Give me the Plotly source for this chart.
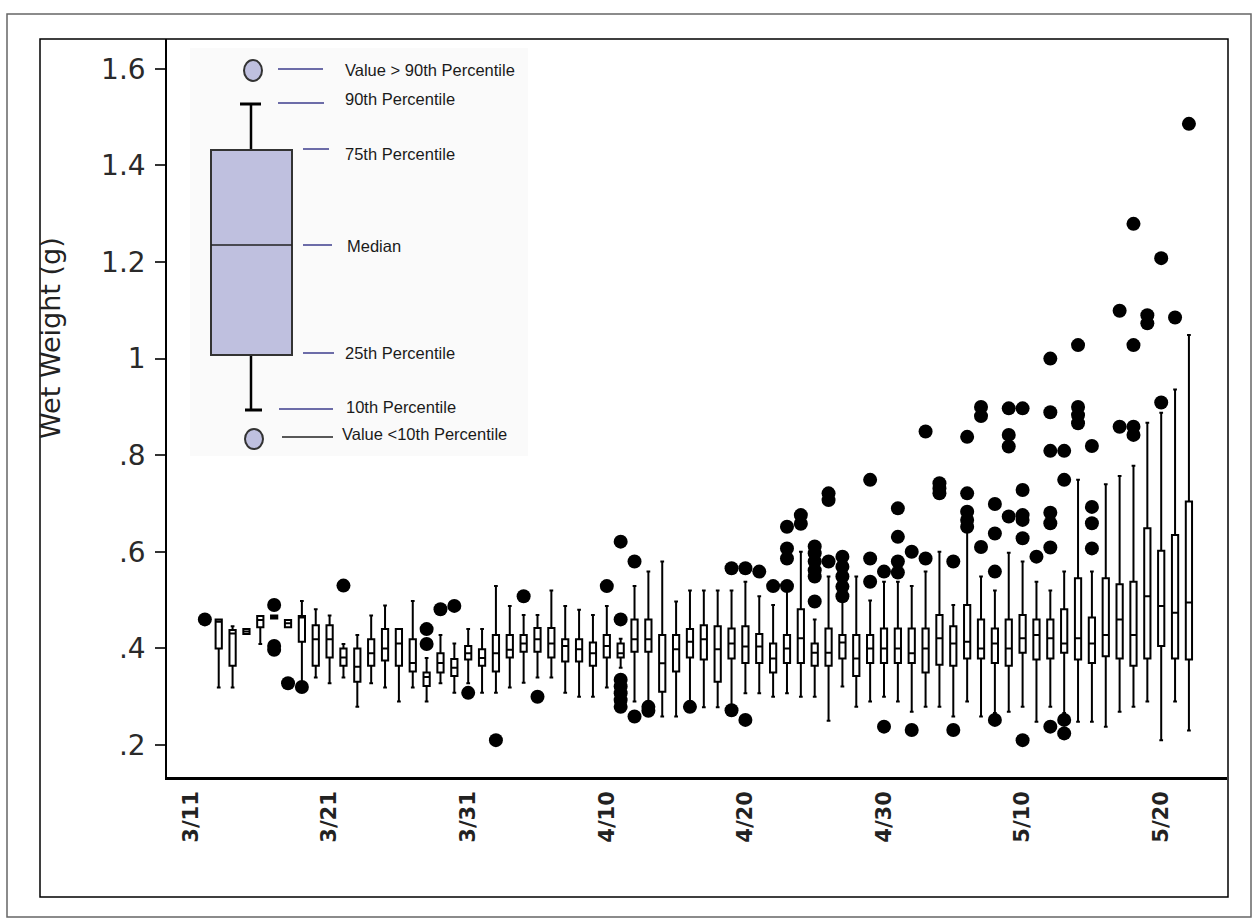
import plotly.graph_objects as go

# ---------------- data (days after 3/11) ----------------
start_labels = ["3/11", "3/21", "3/31", "4/10", "4/20", "4/30", "5/10", "5/20"]
label_days = [0, 10, 20, 30, 40, 50, 60, 70]

box_days = list(range(2, 73))
lower_10 = [0.319, 0.319, 0.43, 0.409, 0.462, 0.444, 0.325, 0.34, 0.328, 0.34,
            0.279, 0.328, 0.319, 0.29, 0.319, 0.29, 0.328, 0.308, 0.328, 0.308,
            0.308, 0.319, 0.329, 0.34, 0.34, 0.308, 0.30, 0.30, 0.319, 0.36,
            0.29, 0.29, 0.259, 0.259, 0.29, 0.278, 0.278, 0.279, 0.307, 0.307,
            0.30, 0.307, 0.30, 0.30, 0.25, 0.321, 0.279, 0.29, 0.30, 0.29,
            0.269, 0.279, 0.279, 0.259, 0.29, 0.259, 0.266, 0.269, 0.279, 0.248,
            0.279, 0.266, 0.248, 0.248, 0.238, 0.269, 0.279, 0.29, 0.21, 0.29,
            0.23]
q25 = [0.40, 0.364, 0.43, 0.444, 0.462, 0.444, 0.414, 0.364, 0.381, 0.364,
       0.331, 0.364, 0.375, 0.364, 0.352, 0.322, 0.35, 0.343, 0.377, 0.364,
       0.352, 0.381, 0.393, 0.393, 0.381, 0.373, 0.373, 0.364, 0.381, 0.381,
       0.393, 0.393, 0.31, 0.352, 0.381, 0.377, 0.331, 0.379, 0.37, 0.37,
       0.35, 0.37, 0.37, 0.364, 0.364, 0.379, 0.343, 0.37, 0.37, 0.37,
       0.37, 0.35, 0.366, 0.364, 0.379, 0.379, 0.37, 0.364, 0.391, 0.377,
       0.379, 0.391, 0.377, 0.37, 0.384, 0.379, 0.364, 0.379, 0.405, 0.379,
       0.377]
median = [0.455, 0.431, 0.435, 0.459, 0.465, 0.452, 0.464, 0.419, 0.419, 0.381,
          0.362, 0.39, 0.40, 0.41, 0.37, 0.341, 0.37, 0.36, 0.39, 0.38,
          0.39, 0.397, 0.41, 0.419, 0.41, 0.405, 0.398, 0.39, 0.405, 0.39,
          0.419, 0.419, 0.369, 0.398, 0.414, 0.419, 0.398, 0.41, 0.404, 0.404,
          0.379, 0.40, 0.421, 0.391, 0.391, 0.412, 0.379, 0.40, 0.40, 0.40,
          0.39, 0.40, 0.421, 0.41, 0.414, 0.40, 0.41, 0.40, 0.421, 0.428,
          0.421, 0.41, 0.421, 0.41, 0.428, 0.46, 0.428, 0.508, 0.488, 0.474,
          0.495]
q75 = [0.46, 0.438, 0.44, 0.467, 0.468, 0.459, 0.467, 0.448, 0.448, 0.40,
       0.40, 0.419, 0.44, 0.44, 0.419, 0.35, 0.39, 0.378, 0.405, 0.398,
       0.428, 0.428, 0.428, 0.442, 0.442, 0.419, 0.419, 0.412, 0.428, 0.41,
       0.46, 0.46, 0.428, 0.428, 0.44, 0.448, 0.446, 0.441, 0.446, 0.43,
       0.41, 0.428, 0.481, 0.41, 0.441, 0.428, 0.428, 0.428, 0.441, 0.441,
       0.441, 0.441, 0.469, 0.446, 0.49, 0.46, 0.441, 0.46, 0.469, 0.46,
       0.46, 0.481, 0.545, 0.464, 0.545, 0.533, 0.538, 0.649, 0.602, 0.635,
       0.704]
upper_90 = [0.46, 0.446, 0.44, 0.467, 0.468, 0.459, 0.498, 0.481, 0.468, 0.409,
            0.428, 0.468, 0.489, 0.44, 0.498, 0.38, 0.428, 0.41, 0.44, 0.44,
            0.529, 0.488, 0.469, 0.469, 0.52, 0.488, 0.48, 0.469, 0.488, 0.42,
            0.529, 0.559, 0.58, 0.497, 0.52, 0.52, 0.52, 0.52, 0.538, 0.508,
            0.49, 0.529, 0.60, 0.46, 0.549, 0.499, 0.549, 0.499, 0.538, 0.538,
            0.529, 0.559, 0.60, 0.49, 0.642, 0.549, 0.52, 0.598, 0.58, 0.538,
            0.52, 0.559, 0.749, 0.559, 0.74, 0.757, 0.778, 0.867, 0.888, 0.936,
            1.049]

outliers = {
    1: [0.46], 6: [0.49, 0.405, 0.397], 7: [0.328], 8: [0.32], 11: [0.53],
    17: [0.44, 0.409], 18: [0.481], 19: [0.488], 20: [0.308], 22: [0.21],
    24: [0.508], 25: [0.30], 30: [0.529],
    31: [0.621, 0.46, 0.335, 0.321, 0.307, 0.293, 0.279],
    32: [0.58, 0.259], 33: [0.279, 0.271], 36: [0.279], 39: [0.566, 0.272],
    40: [0.566, 0.252], 41: [0.559], 42: [0.529],
    43: [0.529, 0.586, 0.607, 0.652], 44: [0.676, 0.658],
    45: [0.611, 0.597, 0.58, 0.562, 0.549, 0.497], 46: [0.721, 0.707, 0.58],
    47: [0.59, 0.569, 0.549, 0.528, 0.508], 49: [0.749, 0.586, 0.538],
    50: [0.559, 0.238], 51: [0.69, 0.631, 0.58, 0.557], 52: [0.60, 0.231],
    53: [0.849, 0.586], 54: [0.742, 0.731, 0.721], 55: [0.58, 0.231],
    56: [0.838, 0.721, 0.683, 0.666, 0.652], 57: [0.90, 0.881, 0.61],
    58: [0.699, 0.638, 0.559, 0.252], 59: [0.897, 0.842, 0.818, 0.673],
    60: [0.897, 0.728, 0.676, 0.666, 0.628, 0.21], 61: [0.59],
    62: [1.0, 0.889, 0.809, 0.681, 0.659, 0.609, 0.238],
    63: [0.809, 0.749, 0.252, 0.224], 64: [1.028, 0.90, 0.883, 0.866],
    65: [0.819, 0.693, 0.659, 0.607], 67: [1.099, 0.859],
    68: [1.279, 1.028, 0.859, 0.842], 69: [1.09, 1.073], 70: [1.208, 0.909],
    71: [1.085], 72: [1.486],
}

y_tick_vals = [0.2, 0.4, 0.6, 0.8, 1.0, 1.2, 1.4, 1.6]
y_tick_text = [".2", ".4", ".6", ".8", "1", "1.2", "1.4", "1.6"]

legend_labels = ["Value > 90th Percentile", "90th Percentile", "75th Percentile",
                 "Median", "25th Percentile", "10th Percentile",
                 "Value <10th Percentile"]

# ---------------- layout geometry (pixels) ----------------
W, H = 1257, 924
PL, PR, PT, PB = 167, 1227, 39, 777


def px(x):
    return (x - PL) / (PR - PL)


def py(y):
    return (PB - y) / (PB - PT)


out_x, out_y = [], []
for d, vals in outliers.items():
    for v in vals:
        out_x.append(d)
        out_y.append(v)

fig = go.Figure()
fig.add_trace(go.Box(
    x=box_days, q1=q25, median=median, q3=q75,
    lowerfence=lower_10, upperfence=upper_90,
    boxpoints=False, width=0.45, whiskerwidth=0.6,
    fillcolor="white", line=dict(color="black", width=2),
    showlegend=False, hoverinfo="skip",
))
fig.add_trace(go.Scatter(
    x=out_x, y=out_y, mode="markers",
    marker=dict(size=14, color="black"),
    showlegend=False, hoverinfo="skip",
))

shapes = []
# frames
shapes.append(dict(type="rect", xref="paper", yref="paper",
                   x0=px(7), x1=px(1251), y0=py(917), y1=py(14),
                   line=dict(color="#666", width=1.5)))
shapes.append(dict(type="rect", xref="paper", yref="paper",
                   x0=px(40), x1=px(1228), y0=py(897), y1=py(39),
                   line=dict(color="black", width=1.5)))
# inset background
shapes.append(dict(type="rect", xref="paper", yref="paper", layer="below",
                   x0=px(190), x1=px(528), y0=py(456), y1=py(48),
                   fillcolor="#fafafa", line=dict(width=0)))

LAV = "#bfc0df"
# legend box
shapes.append(dict(type="line", xref="paper", yref="paper",
                   x0=px(251), x1=px(251), y0=py(104), y1=py(150),
                   line=dict(color="black", width=2.5)))
shapes.append(dict(type="line", xref="paper", yref="paper",
                   x0=px(251), x1=px(251), y0=py(355), y1=py(410),
                   line=dict(color="black", width=2.5)))
shapes.append(dict(type="line", xref="paper", yref="paper",
                   x0=px(240), x1=px(261), y0=py(104), y1=py(104),
                   line=dict(color="black", width=3)))
shapes.append(dict(type="line", xref="paper", yref="paper",
                   x0=px(245), x1=px(262), y0=py(410), y1=py(410),
                   line=dict(color="black", width=3)))
shapes.append(dict(type="rect", xref="paper", yref="paper",
                   x0=px(211), x1=px(292), y0=py(355), y1=py(150),
                   fillcolor=LAV, line=dict(color="#333", width=2)))
shapes.append(dict(type="line", xref="paper", yref="paper",
                   x0=px(211), x1=px(292), y0=py(245), y1=py(245),
                   line=dict(color="#222", width=1.5)))
shapes.append(dict(type="circle", xref="paper", yref="paper",
                   x0=px(244), x1=px(262), y0=py(81), y1=py(60),
                   fillcolor=LAV, line=dict(color="#333", width=2)))
shapes.append(dict(type="circle", xref="paper", yref="paper",
                   x0=px(245), x1=px(263), y0=py(449), y1=py(429),
                   fillcolor=LAV, line=dict(color="#333", width=2)))

leg_lines = [(278, 323, 69), (278, 324, 103), (303, 329, 149), (303, 332, 245),
             (303, 334, 353), (279, 333, 409), (282, 333, 437)]
for i, (a, b, y) in enumerate(leg_lines):
    col = "#222" if i == 6 else "#3c3c8c"
    shapes.append(dict(type="line", xref="paper", yref="paper",
                       x0=px(a), x1=px(b), y0=py(y), y1=py(y),
                       line=dict(color=col, width=1.5)))

leg_text_pos = [(343, 70), (343, 99), (343, 154), (345, 246), (343, 353),
                (344, 407), (340, 434)]
annotations = []
for t, (x, y) in zip(legend_labels, leg_text_pos):
    annotations.append(dict(text=t, xref="paper", yref="paper",
                            x=px(x), y=py(y), xanchor="left", yanchor="middle",
                            showarrow=False,
                            font=dict(family="Liberation Sans, Arial", size=16.5, color="#1a1a1a")))

annotations.append(dict(text="Wet Weight (g)", xref="paper", yref="paper",
                        x=px(50), y=py(338), textangle=-90, showarrow=False,
                        xanchor="center", yanchor="middle",
                        font=dict(family="DejaVu Sans", size=27, color="#222")))

x0_day = (PL - 191) / 13.86
x1_day = (PR - 191) / 13.86
y_lo = 0.2 - (PB - 745) / 483
y_hi = 0.2 + (745 - PT) / 483

fig.update_layout(
    width=W, height=H, autosize=False,
    margin=dict(l=PL, r=W - PR, t=PT, b=H - PB),
    paper_bgcolor="white", plot_bgcolor="rgba(0,0,0,0)",
    shapes=shapes, annotations=annotations,
    xaxis=dict(range=[x0_day, x1_day], showgrid=False, zeroline=False,
               showline=True, linecolor="black", linewidth=2.5,
               tickvals=label_days, ticktext=start_labels, tickangle=-90,
               ticks="", ticklabelstandoff=3,
               tickfont=dict(family="DejaVu Sans", size=21, color="#222",
                             weight="bold")),
    yaxis=dict(range=[y_lo, y_hi], showgrid=False, zeroline=False,
               showline=True, linecolor="black", linewidth=1.5,
               tickvals=y_tick_vals, ticktext=y_tick_text,
               ticks="outside", ticklen=10, tickwidth=1.5, tickcolor="#333",
               ticklabelstandoff=4,
               tickfont=dict(family="DejaVu Sans", size=28, color="#2a2a2a")),
)

fig.write_html("out.html")
